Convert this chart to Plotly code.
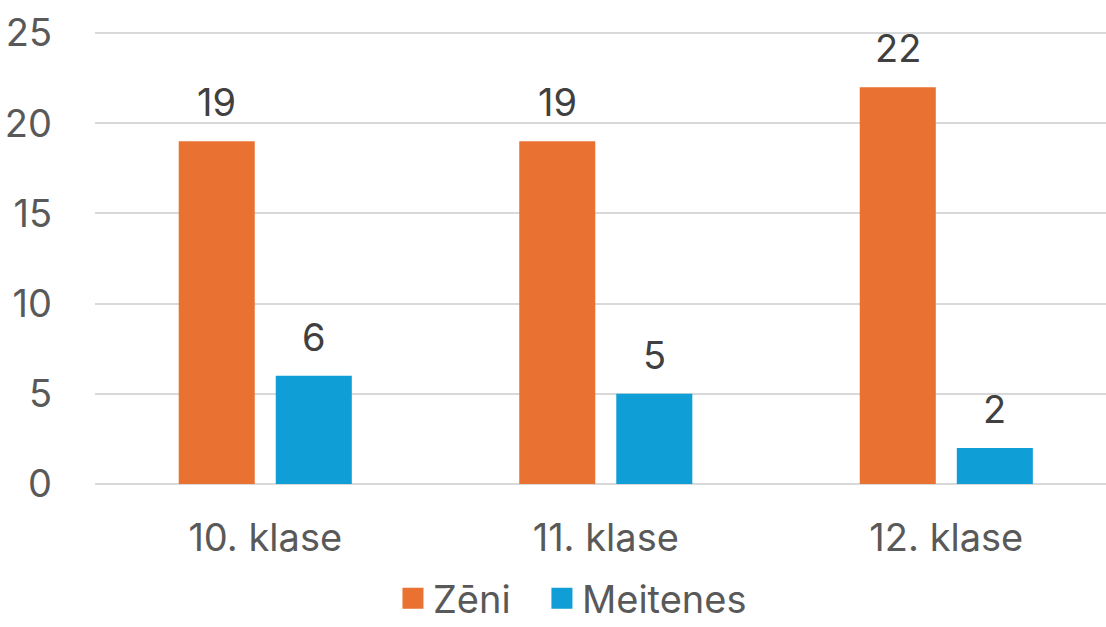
import plotly.graph_objects as go

categories = ["10. klase", "11. klase", "12. klase"]
zeni = [19, 19, 22]
meitenes = [6, 5, 2]
series_names = ["Zēni", "Meitenes"]
y_ticks = [0, 5, 10, 15, 20, 25]

ORANGE = "#E97132"
BLUE = "#0F9ED5"
FONT = "Inter"
FS = 38

fig = go.Figure()
fig.add_bar(x=categories, y=zeni, name=series_names[0], marker_color=ORANGE,
            marker_line_width=0, showlegend=False)
fig.add_bar(x=categories, y=meitenes, name=series_names[1], marker_color=BLUE,
            marker_line_width=0, showlegend=False)
# legend-only entries with larger square swatches, one legend each
for name, col, lg in zip(series_names, (ORANGE, BLUE), ("legend", "legend2")):
    fig.add_scatter(x=[None], y=[None], mode="markers", name=name, legend=lg,
                    marker=dict(symbol="square", size=16, color=col,
                                line=dict(width=8, color=col)))

for vals, shift in ((zeni, -48.5), (meitenes, 48.5)):
    for c, v in zip(categories, vals):
        fig.add_annotation(x=c, y=v, text=str(v), showarrow=False,
                           xanchor="center", yanchor="bottom",
                           xshift=shift, yshift=14,
                           font=dict(family=FONT, size=FS, color="#404040"))

legend_common = dict(orientation="h", xref="container", xanchor="left",
                     yref="paper", y=-0.323, yanchor="bottom",
                     font=dict(size=FS, color="#595959"),
                     itemsizing="trace", bgcolor="rgba(0,0,0,0)")

fig.update_layout(
    width=1106, height=627,
    margin=dict(l=95, r=0, t=32, b=143, autoexpand=False),
    paper_bgcolor="white", plot_bgcolor="white",
    barmode="group", bargap=0.43, bargroupgap=0.2165,
    font=dict(family=FONT, size=FS, color="#595959"),
    showlegend=True,
    legend=dict(x=0.3553, **legend_common),
    legend2=dict(x=0.490, **legend_common),
)
fig.update_xaxes(range=[-0.5, 2.469], showgrid=False, showline=False,
                 ticks="", tickfont=dict(size=FS, color="#595959"),
                 ticklabelstandoff=28, automargin=False)
fig.update_yaxes(range=[0, 25.06], tickvals=y_ticks, showgrid=True,
                 gridcolor="#D9D9D9", gridwidth=1.5, zeroline=True,
                 zerolinecolor="#D9D9D9", zerolinewidth=1.5,
                 showline=False, ticks="", ticklabelstandoff=42,
                 tickfont=dict(size=FS, color="#595959"), automargin=False)

fig.write_html("out.html", config={"displayModeBar": False},
               post_script="document.body.style.margin='0';document.body.style.overflow='hidden';")
